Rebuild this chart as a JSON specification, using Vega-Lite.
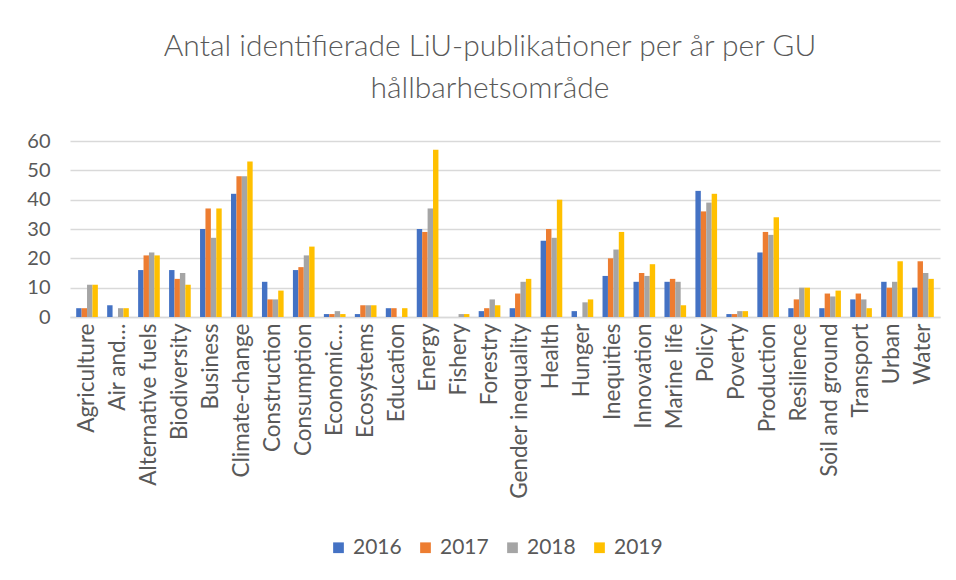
{
  "$schema": "https://vega.github.io/schema/vega-lite/v6.json",
  "width": 870,
  "height": 176,
  "autosize": "none",
  "padding": {"left": 70, "top": 141, "right": 16, "bottom": 263},
  "background": "white",
  "title": {
    "text": ["Antal identifierade LiU-publikationer per år per GU", "hållbarhetsområde"],
    "fontSize": 30,
    "font": "Lato",
    "fontWeight": 300,
    "color": "#595959",
    "anchor": "middle",
    "dx": -15,
    "offset": 27,
    "lineHeight": 42
  },
  "data": {
    "values": [
      {"category": "Agriculture", "year": "2016", "value": 3},
      {"category": "Agriculture", "year": "2017", "value": 3},
      {"category": "Agriculture", "year": "2018", "value": 11},
      {"category": "Agriculture", "year": "2019", "value": 11},
      {"category": "Air and…", "year": "2016", "value": 4},
      {"category": "Air and…", "year": "2017", "value": 0},
      {"category": "Air and…", "year": "2018", "value": 3},
      {"category": "Air and…", "year": "2019", "value": 3},
      {"category": "Alternative fuels", "year": "2016", "value": 16},
      {"category": "Alternative fuels", "year": "2017", "value": 21},
      {"category": "Alternative fuels", "year": "2018", "value": 22},
      {"category": "Alternative fuels", "year": "2019", "value": 21},
      {"category": "Biodiversity", "year": "2016", "value": 16},
      {"category": "Biodiversity", "year": "2017", "value": 13},
      {"category": "Biodiversity", "year": "2018", "value": 15},
      {"category": "Biodiversity", "year": "2019", "value": 11},
      {"category": "Business", "year": "2016", "value": 30},
      {"category": "Business", "year": "2017", "value": 37},
      {"category": "Business", "year": "2018", "value": 27},
      {"category": "Business", "year": "2019", "value": 37},
      {"category": "Climate-change", "year": "2016", "value": 42},
      {"category": "Climate-change", "year": "2017", "value": 48},
      {"category": "Climate-change", "year": "2018", "value": 48},
      {"category": "Climate-change", "year": "2019", "value": 53},
      {"category": "Construction", "year": "2016", "value": 12},
      {"category": "Construction", "year": "2017", "value": 6},
      {"category": "Construction", "year": "2018", "value": 6},
      {"category": "Construction", "year": "2019", "value": 9},
      {"category": "Consumption", "year": "2016", "value": 16},
      {"category": "Consumption", "year": "2017", "value": 17},
      {"category": "Consumption", "year": "2018", "value": 21},
      {"category": "Consumption", "year": "2019", "value": 24},
      {"category": "Economic…", "year": "2016", "value": 1},
      {"category": "Economic…", "year": "2017", "value": 1},
      {"category": "Economic…", "year": "2018", "value": 2},
      {"category": "Economic…", "year": "2019", "value": 1},
      {"category": "Ecosystems", "year": "2016", "value": 1},
      {"category": "Ecosystems", "year": "2017", "value": 4},
      {"category": "Ecosystems", "year": "2018", "value": 4},
      {"category": "Ecosystems", "year": "2019", "value": 4},
      {"category": "Education", "year": "2016", "value": 3},
      {"category": "Education", "year": "2017", "value": 3},
      {"category": "Education", "year": "2018", "value": 0},
      {"category": "Education", "year": "2019", "value": 3},
      {"category": "Energy", "year": "2016", "value": 30},
      {"category": "Energy", "year": "2017", "value": 29},
      {"category": "Energy", "year": "2018", "value": 37},
      {"category": "Energy", "year": "2019", "value": 57},
      {"category": "Fishery", "year": "2016", "value": 0},
      {"category": "Fishery", "year": "2017", "value": 0},
      {"category": "Fishery", "year": "2018", "value": 1},
      {"category": "Fishery", "year": "2019", "value": 1},
      {"category": "Forestry", "year": "2016", "value": 2},
      {"category": "Forestry", "year": "2017", "value": 3},
      {"category": "Forestry", "year": "2018", "value": 6},
      {"category": "Forestry", "year": "2019", "value": 4},
      {"category": "Gender inequality", "year": "2016", "value": 3},
      {"category": "Gender inequality", "year": "2017", "value": 8},
      {"category": "Gender inequality", "year": "2018", "value": 12},
      {"category": "Gender inequality", "year": "2019", "value": 13},
      {"category": "Health", "year": "2016", "value": 26},
      {"category": "Health", "year": "2017", "value": 30},
      {"category": "Health", "year": "2018", "value": 27},
      {"category": "Health", "year": "2019", "value": 40},
      {"category": "Hunger", "year": "2016", "value": 2},
      {"category": "Hunger", "year": "2017", "value": 0},
      {"category": "Hunger", "year": "2018", "value": 5},
      {"category": "Hunger", "year": "2019", "value": 6},
      {"category": "Inequities", "year": "2016", "value": 14},
      {"category": "Inequities", "year": "2017", "value": 20},
      {"category": "Inequities", "year": "2018", "value": 23},
      {"category": "Inequities", "year": "2019", "value": 29},
      {"category": "Innovation", "year": "2016", "value": 12},
      {"category": "Innovation", "year": "2017", "value": 15},
      {"category": "Innovation", "year": "2018", "value": 14},
      {"category": "Innovation", "year": "2019", "value": 18},
      {"category": "Marine life", "year": "2016", "value": 12},
      {"category": "Marine life", "year": "2017", "value": 13},
      {"category": "Marine life", "year": "2018", "value": 12},
      {"category": "Marine life", "year": "2019", "value": 4},
      {"category": "Policy", "year": "2016", "value": 43},
      {"category": "Policy", "year": "2017", "value": 36},
      {"category": "Policy", "year": "2018", "value": 39},
      {"category": "Policy", "year": "2019", "value": 42},
      {"category": "Poverty", "year": "2016", "value": 1},
      {"category": "Poverty", "year": "2017", "value": 1},
      {"category": "Poverty", "year": "2018", "value": 2},
      {"category": "Poverty", "year": "2019", "value": 2},
      {"category": "Production", "year": "2016", "value": 22},
      {"category": "Production", "year": "2017", "value": 29},
      {"category": "Production", "year": "2018", "value": 28},
      {"category": "Production", "year": "2019", "value": 34},
      {"category": "Resilience", "year": "2016", "value": 3},
      {"category": "Resilience", "year": "2017", "value": 6},
      {"category": "Resilience", "year": "2018", "value": 10},
      {"category": "Resilience", "year": "2019", "value": 10},
      {"category": "Soil and ground", "year": "2016", "value": 3},
      {"category": "Soil and ground", "year": "2017", "value": 8},
      {"category": "Soil and ground", "year": "2018", "value": 7},
      {"category": "Soil and ground", "year": "2019", "value": 9},
      {"category": "Transport", "year": "2016", "value": 6},
      {"category": "Transport", "year": "2017", "value": 8},
      {"category": "Transport", "year": "2018", "value": 6},
      {"category": "Transport", "year": "2019", "value": 3},
      {"category": "Urban", "year": "2016", "value": 12},
      {"category": "Urban", "year": "2017", "value": 10},
      {"category": "Urban", "year": "2018", "value": 12},
      {"category": "Urban", "year": "2019", "value": 19},
      {"category": "Water", "year": "2016", "value": 10},
      {"category": "Water", "year": "2017", "value": 19},
      {"category": "Water", "year": "2018", "value": 15},
      {"category": "Water", "year": "2019", "value": 13}
    ]
  },
  "mark": {"type": "bar"},
  "encoding": {
    "x": {
      "field": "category",
      "type": "nominal",
      "sort": null,
      "title": null,
      "scale": {"paddingInner": 0.3, "paddingOuter": 0.2},
      "axis": {
        "labelAngle": -90,
        "labelAlign": "right",
        "labelBaseline": "middle",
        "labelFont": "Lato",
        "labelFontSize": 22.5,
        "labelColor": "#595959",
        "labelPadding": 6,
        "labelLimit": 300,
        "labelOverlap": false,
        "ticks": false,
        "domainColor": "#d9d9d9",
        "domainWidth": 1.5,
        "grid": false
      }
    },
    "xOffset": {"field": "year", "type": "nominal", "sort": ["2016", "2017", "2018", "2019"]},
    "y": {
      "field": "value",
      "type": "quantitative",
      "title": null,
      "scale": {"domain": [0, 60], "nice": false},
      "axis": {
        "values": [0, 10, 20, 30, 40, 50, 60],
        "labelFont": "Lato",
        "labelFontSize": 20,
        "labelColor": "#595959",
        "labelPadding": 20,
        "ticks": false,
        "domain": false,
        "gridColor": "#d9d9d9",
        "gridWidth": 1.5
      }
    },
    "color": {
      "field": "year",
      "type": "nominal",
      "title": null,
      "scale": {
        "domain": ["2016", "2017", "2018", "2019"],
        "range": ["#4472C4", "#ED7D31", "#A5A5A5", "#FFC000"]
      },
      "legend": {
        "orient": "none",
        "legendX": 258,
        "legendY": 396,
        "direction": "horizontal",
        "symbolType": "square",
        "symbolSize": 115,
        "symbolStrokeWidth": 0,
        "labelFont": "Lato",
        "labelFontSize": 21,
        "labelColor": "#595959",
        "columnPadding": 13,
        "labelOffset": 4
      }
    }
  },
  "config": {
    "view": {"stroke": null}
  }
}
